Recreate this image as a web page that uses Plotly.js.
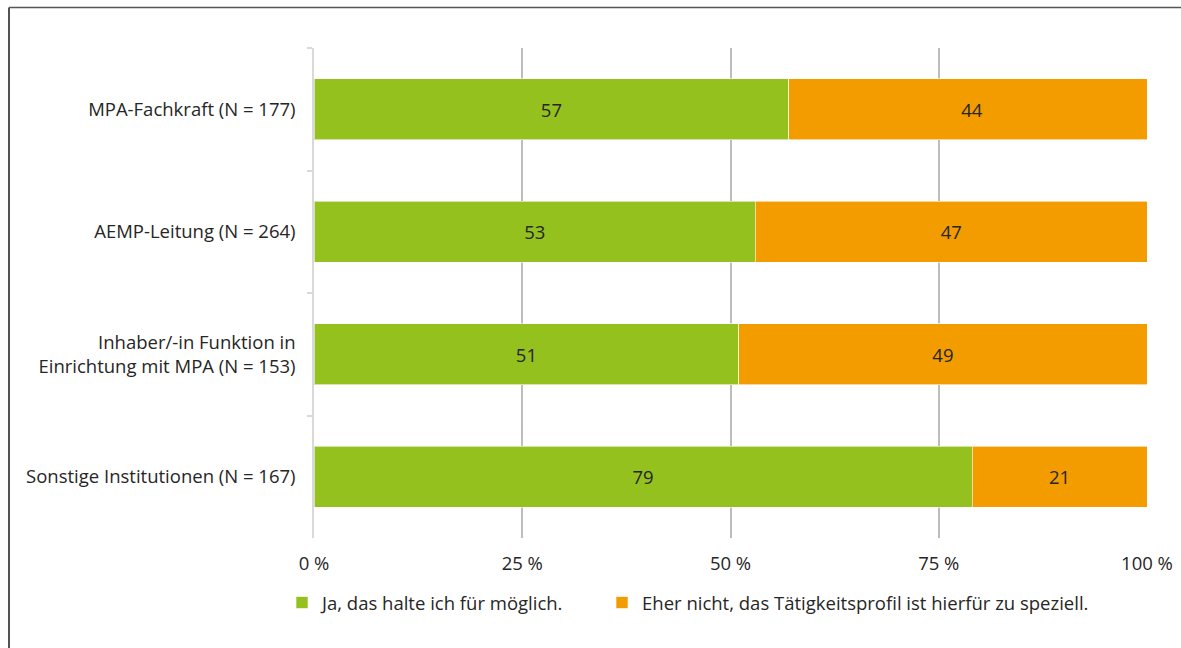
<!DOCTYPE html>
<html>
<head>
<meta charset="utf-8">
<script src="https://cdn.plot.ly/plotly-3.0.1.min.js"></script>
<style>
html,body{margin:0;padding:0;background:#fff;}
#chart{width:1181px;height:648px;}
</style>
</head>
<body>
<div id="chart"></div>
<script>
const categories = [
  "MPA-Fachkraft (N = 177)",
  "AEMP-Leitung (N = 264)",
  "Inhaber/-in Funktion in<br>Einrichtung mit MPA (N = 153)",
  "Sonstige Institutionen (N = 167)"
];
const seriesNames = [
  "Ja, das halte ich für möglich.",
  "Eher nicht, das Tätigkeitsprofil ist hierfür zu speziell."
];
const jaValues = [57, 53, 51, 79];
const eherNichtValues = [44, 47, 49, 21];
const tickValues = [0, 25, 50, 75, 100];
const tickLabels = ["0 %", "25 %", "50 %", "75 %", "100 %"];

const colors = ["#95C11F", "#F39C00"];
const textColor = "#262626";
const fontFamily = "'Open Sans', 'Noto Sans', sans-serif";
const fs = 18.5;

function makeTrace(vals, name, color, legendId) {
  return {
    type: "bar",
    orientation: "h",
    x: vals,
    y: categories,
    name: name,
    legend: legendId,
    text: vals.map(String),
    textposition: "inside",
    insidetextanchor: "middle",
    textfont: {family: fontFamily, size: fs, color: textColor},
    marker: {color: color, line: {color: "rgba(255,255,255,0.6)", width: 1}},
    hoverinfo: "x+y+name"
  };
}

const data = [
  makeTrace(jaValues, seriesNames[0], colors[0], "legend"),
  makeTrace(eherNichtValues, seriesNames[1], colors[1], "legend2")
];

const L = 314, R = 34, T = 48, B = 110, W = 1181, H = 648;
const pw = W - L - R, ph = H - T - B;
const px = v => (v - L) / pw;
const py = v => (H - B - v) / ph;

const legendBase = {
  orientation: "h",
  xanchor: "left",
  y: py(603), yanchor: "middle",
  font: {family: fontFamily, size: fs, color: textColor},
  bgcolor: "rgba(0,0,0,0)",
  itemclick: false
};

const layout = {
  width: W, height: H,
  margin: {l: L, r: R, t: T, b: B, pad: 0},
  barmode: "stack",
  bargap: 0.5,
  paper_bgcolor: "#ffffff",
  plot_bgcolor: "#ffffff",
  font: {family: fontFamily, size: fs, color: textColor},
  showlegend: true,
  legend: Object.assign({}, legendBase, {x: px(282)}),
  legend2: Object.assign({}, legendBase, {x: px(602)}),
  xaxis: {
    range: [0, 100],
    tickvals: tickValues,
    ticktext: tickLabels,
    showgrid: true,
    gridcolor: "#bdbdbd",
    gridwidth: 1.5,
    zeroline: false,
    showline: false,
    ticks: "",
    ticklabelstandoff: 12,
    tickfont: {family: fontFamily, size: fs, color: textColor},
    fixedrange: true
  },
  yaxis: {
    autorange: "reversed",
    showgrid: false,
    zeroline: false,
    showline: true,
    linecolor: "#d9d9d9",
    linewidth: 1.5,
    ticks: "outside",
    tickson: "boundaries",
    ticklen: 5,
    tickcolor: "#d9d9d9",
    tickwidth: 1.5,
    ticklabelstandoff: 13,
    tickfont: {family: fontFamily, size: fs, color: textColor},
    fixedrange: true
  },
  shapes: [
    {type: "line", xref: "paper", yref: "paper", x0: px(9), x1: px(9), y0: py(7.5), y1: py(650), line: {color: "#1a1a1a", width: 1.5}},
    {type: "line", xref: "paper", yref: "paper", x0: px(9), x1: px(1185), y0: py(7.5), y1: py(7.5), line: {color: "#555555", width: 1.5}}
  ]
};

Plotly.newPlot("chart", data, layout, {displayModeBar: false, staticPlot: false});
</script>
</body>
</html>
